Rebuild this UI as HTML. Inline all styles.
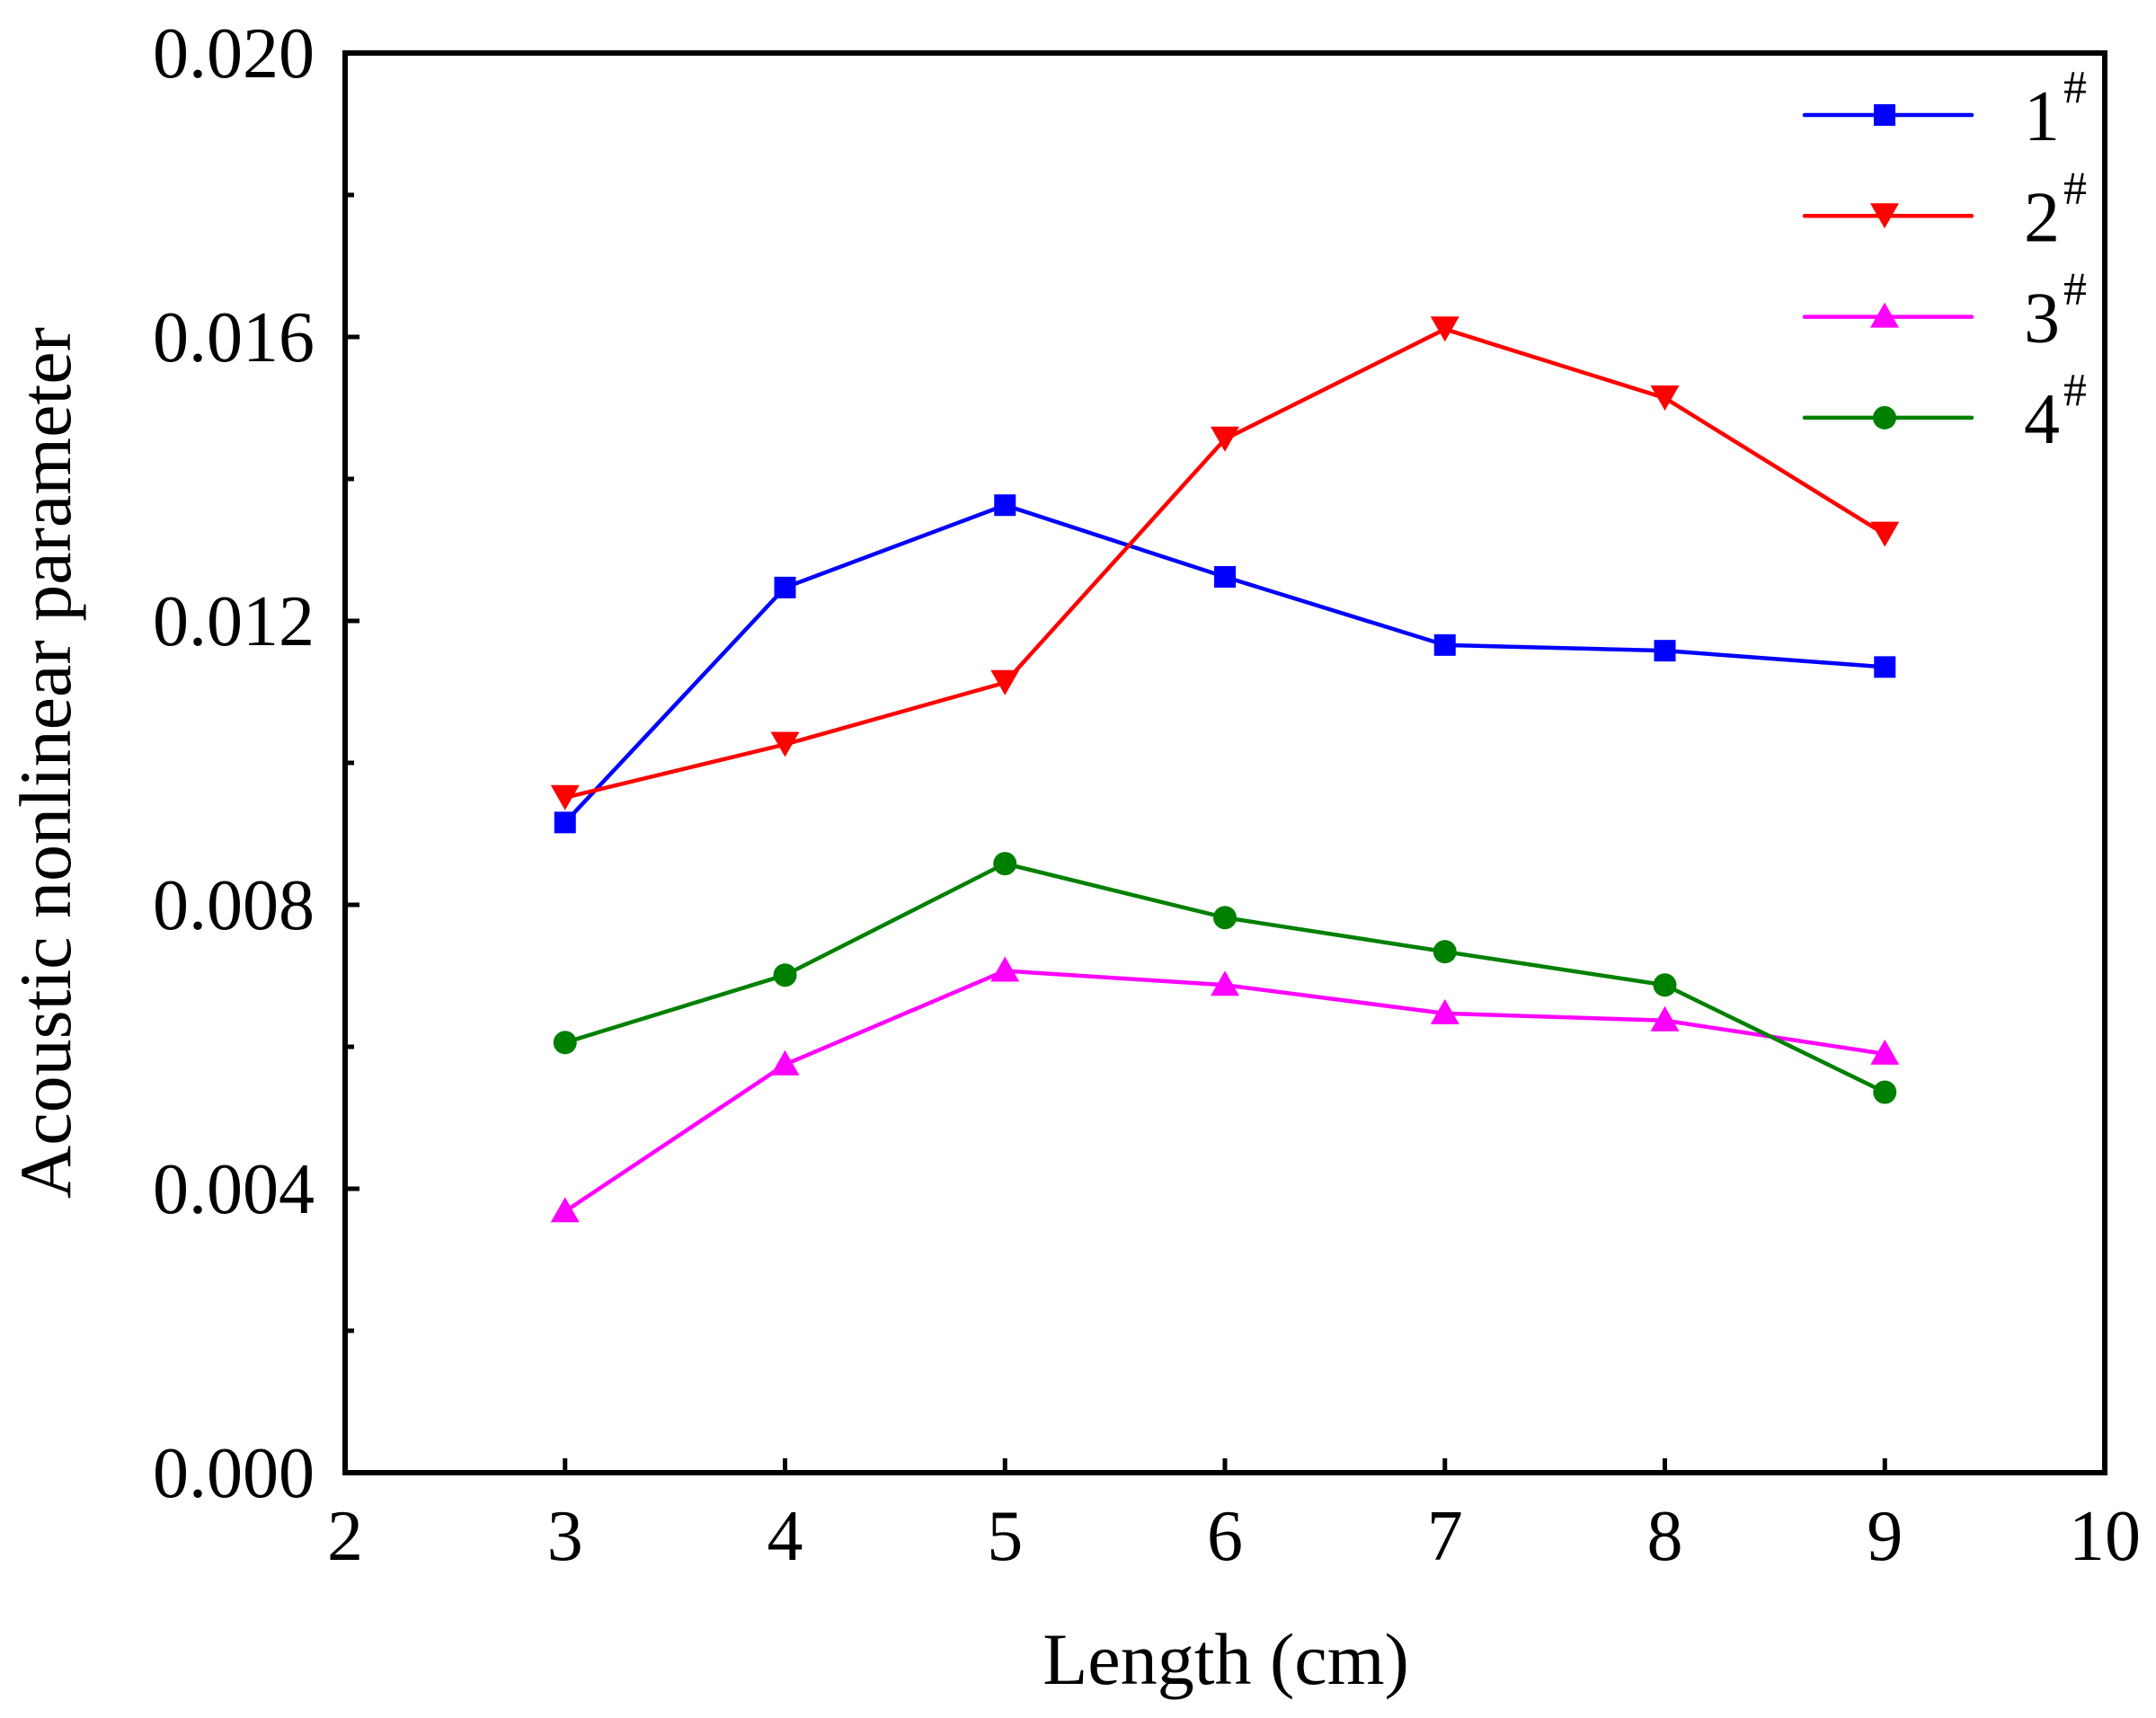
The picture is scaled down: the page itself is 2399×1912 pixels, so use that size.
<!DOCTYPE html>
<html><head><meta charset="utf-8"><style>
html,body{margin:0;padding:0;background:#fff;}
svg{display:block;font-family:"Liberation Serif",serif;}
</style></head><body>
<svg id="s" width="2399" height="1912" viewBox="0 0 2399 1912" xmlns="http://www.w3.org/2000/svg">
<rect width="2399" height="1912" fill="#fff"/>
<g id="plot"></g>
<rect x="384" y="59" width="1958" height="1580" fill="none" stroke="#000" stroke-width="6"/>
<g id="ax" font-size="80" fill="#000"></g>
<text x="1364" y="1874" font-size="82" text-anchor="middle">Length (cm)</text>
<text transform="translate(78,849) rotate(-90)" font-size="82" text-anchor="middle">Acoustic nonlinear parameter</text>
</svg>
<script>
const NS="http://www.w3.org/2000/svg";
const X=v=>384+(v-2)*244.75, Y=v=>1639-v*79000;
function el(t,a,p){const e=document.createElementNS(NS,t);for(const k in a)e.setAttribute(k,a[k]);(p||document.getElementById('plot')).appendChild(e);return e;}
const ax=document.getElementById('ax');
for(let i=2;i<=10;i++){const x=X(i);if(i>2&&i<10)el('line',{x1:x,x2:x,y1:1639,y2:1623,stroke:'#000','stroke-width':5},ax);
 const t=el('text',{x:x,y:1736,'text-anchor':'middle'},ax);t.textContent=i;}
for(let k=0;k<=10;k++){const v=k*0.002,y=Y(v);el('line',{x1:384,x2:384+(k%2?10:16),y1:y,y2:y,stroke:'#000','stroke-width':5},ax);
 if(k%2==0){const t=el('text',{x:350,y:y+27,'text-anchor':'end'},ax);t.textContent=v.toFixed(3);}}
const S=[
 {c:'#0000ff',m:'sq',d:[0.00916,0.01247,0.01363,0.01262,0.01166,0.01158,0.01135]},
 {c:'#ff0000',m:'dn',d:[0.00951,0.01026,0.01113,0.01456,0.01611,0.01514,0.01322]},
 {c:'#ff00ff',m:'up',d:[0.00368,0.00575,0.00707,0.00687,0.00647,0.00637,0.00590]},
 {c:'#008000',m:'ci',d:[0.00606,0.00701,0.00858,0.00782,0.00734,0.00687,0.00536]}];
function mk(m,x,y,c){
 if(m=='sq')el('rect',{x:x-12,y:y-12,width:24,height:24,fill:c});
 else if(m=='dn')el('polygon',{points:`${x-16},${y-14} ${x+16},${y-14} ${x},${y+14}`,fill:c});
 else if(m=='up')el('polygon',{points:`${x-16},${y+12} ${x+16},${y+12} ${x},${y-16}`,fill:c});
 else el('circle',{cx:x,cy:y,r:13,fill:c});}
S.forEach((s,i)=>{
 el('polyline',{points:s.d.map((v,j)=>X(3+j)+','+Y(v)).join(' '),fill:'none',stroke:s.c,'stroke-width':4.5,'stroke-linejoin':'round'});
 s.d.forEach((v,j)=>mk(s.m,X(3+j),Y(v),s.c));
 const ly=128+i*112.3;
 el('line',{x1:2008,x2:2194,y1:ly,y2:ly,stroke:s.c,'stroke-width':4.5,'stroke-linecap':'round'});
 mk(s.m,2097,ly,s.c);
 const t=el('text',{x:2252,y:ly+28,'font-size':80},ax);t.textContent=(i+1);
 const h=el('text',{x:2296,y:ly-14,'font-size':52},ax);h.textContent='#';
});
</script>
</body></html>
